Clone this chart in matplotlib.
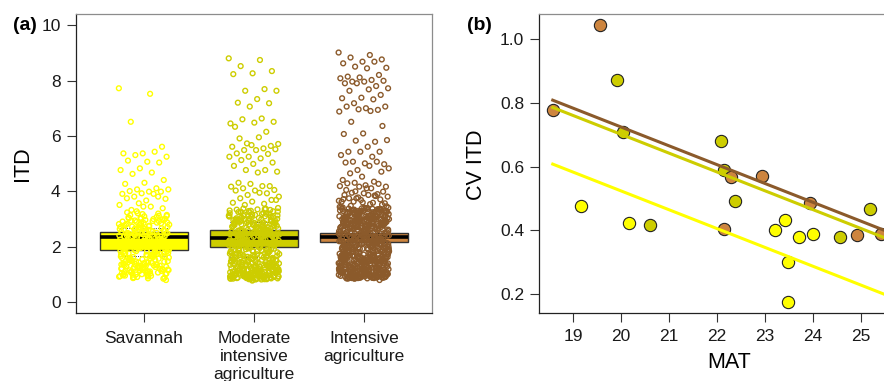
import numpy as np
import matplotlib.pyplot as plt

plt.rcParams['font.family'] = ['Liberation Sans', 'DejaVu Sans']

# ---- panel (a): ITD per land use ----
categories = ['Savannah', 'Moderate\nintensive\nagriculture', 'Intensive\nagriculture']
point_cols = ['#FFFF00', '#CDCD00', '#8B5A2B']
box_cols = ['#FFFF00', '#CDCD00', '#CD853F']

box_low = [1.89, 2.01, 2.16]
box_high = [2.55, 2.61, 2.51]
box_mid = [2.37, 2.31, 2.34]
q_upper = [2.68, 2.90, 3.36]
q_lower = [1.68, 1.62, 2.50]

itd_savannah = [
    7.72, 7.52, 6.51, 5.61, 5.37, 5.37, 5.43, 5.31, 5.25, 5.07, 5.11, 5.04, 4.83, 4.77,
    4.68, 4.63, 4.41, 4.31, 4.27, 4.11, 4.07, 4.07, 3.99, 4.01, 3.99, 3.93, 3.91, 3.91,
    3.81, 3.73, 3.67, 3.75, 3.81, 3.57, 3.51, 3.45, 3.33, 3.39, 3.45,
    1.02, 2.31, 1.47, 2.88, 0.93, 1.76, 2.12, 3.05, 1.21, 2.56, 1.63, 0.88, 2.04, 2.79,
    1.35, 3.21, 1.9, 2.42, 1.09, 2.67, 1.55, 0.97, 2.19, 2.95, 1.28, 1.83, 2.5, 3.12,
    1.14, 2.26, 1.68, 2.73, 0.85, 1.41, 2.37, 1.97, 3.28, 1.18, 2.61, 1.52, 2.08, 2.84,
    1.05, 1.73, 2.45, 3.01, 1.31, 2.15, 1.86, 2.69, 0.92, 1.58, 2.34, 2.99, 1.24, 2.02,
    1.79, 2.53, 3.15, 1.12, 1.45, 2.27, 2.81, 1.65, 2.11, 0.99, 2.58, 1.38, 1.93, 3.08,
    2.4, 1.16, 2.76, 1.6, 2.22, 1.01, 2.91, 1.33, 1.88, 2.48, 1.71, 3.24, 2.06, 1.26,
    2.64, 0.95, 1.5, 2.3, 2.86, 1.08, 1.81, 2.17, 2.71, 1.43, 3.03, 1.2, 1.96, 2.55,
    1.62, 0.9, 2.38, 2.97, 1.3, 1.75, 2.1, 2.8, 1.11, 1.56, 2.25, 3.18, 1.4, 2.0, 2.66,
    1.04, 1.69, 2.44, 2.92, 1.23, 1.85, 2.14, 1.49, 2.6, 3.1, 0.96, 1.36, 2.33, 1.78,
    2.74, 1.15, 2.05, 2.5, 1.59, 3.0, 1.27, 1.92, 2.2, 2.83, 1.07, 1.44, 2.41, 1.66,
    2.94, 1.19, 2.09, 2.62, 1.53, 1.0, 1.84, 2.35, 3.06, 1.32, 2.7, 1.72, 2.16, 0.87,
    1.46, 2.52, 1.98, 2.87, 1.25, 1.61, 2.28, 3.14, 1.13, 2.46, 1.8, 2.04, 1.39, 0.8,
    1.06, 2.23, 1.57, 2.78, 0.94, 1.87, 2.39, 1.17, 2.65, 1.34, 2.01, 2.9, 1.48, 1.09,
    2.47, 1.74, 3.02, 1.22, 2.13, 0.89, 1.64, 2.57, 1.29, 2.36, 1.95, 2.82, 1.03, 1.51,
    2.18, 2.68, 1.37, 1.82, 2.44, 3.11, 0.98, 1.6, 2.27, 1.14, 2.72, 1.42, 2.06, 2.96,
    1.25, 1.77, 2.51, 0.91, 1.91, 2.32, 1.55, 2.85, 1.19, 2.1, 1.69, 2.63, 1.01, 1.44,
    2.4, 3.2, 1.32, 1.99, 2.59, 1.1, 1.67, 2.21, 2.77, 1.27, 1.84, 2.49, 0.86, 1.54,
    2.03, 2.69, 1.36, 2.93, 1.2, 1.79, 2.29, 1.49, 2.42, 1.94,
]

itd_moderate = [
    8.8, 8.74, 8.52, 8.34, 8.26, 8.23, 7.69, 7.63, 7.63, 7.33, 7.2, 7.18, 7.06, 6.45,
    6.63, 6.6, 6.51, 6.48, 6.33, 6.15, 5.73, 5.71, 5.95, 5.91, 5.64, 5.67, 5.61, 5.55,
    5.49, 5.52, 5.49, 5.37, 5.35, 5.25, 5.25, 5.19, 5.13, 5.04, 4.99, 4.92, 4.77, 4.77,
    4.71, 4.68, 4.31, 4.19, 4.27, 4.17, 4.19, 4.11, 4.05, 4.03, 4.03, 3.93, 3.87, 3.81,
    3.95, 3.75, 3.69, 3.63, 3.59, 3.55, 3.51, 3.69,
    0.84, 2.41, 1.12, 3.02, 0.93, 1.67, 2.18, 2.87, 1.03, 1.39, 2.63, 0.88, 3.27, 1.21,
    1.95, 2.52, 0.99, 1.48, 2.29, 3.11, 1.07, 0.82, 1.76, 2.71, 1.16, 2.06, 0.95, 2.94,
    1.3, 1.58, 2.37, 3.36, 0.91, 1.09, 1.85, 2.58, 1.25, 2.15, 0.86, 3.18, 1.43, 2.79,
    1.01, 1.71, 2.46, 0.97, 1.19, 2.01, 2.9, 1.34, 3.07, 0.89, 1.62, 2.24, 1.05, 2.68,
    1.28, 1.9, 0.83, 3.31, 1.14, 2.55, 1.52, 2.11, 0.96, 2.83, 1.37, 1.8, 1.02, 2.33,
    3.14, 0.9, 1.23, 2.62, 1.66, 2.04, 1.1, 2.97, 0.87, 1.45, 2.44, 1.97, 3.23, 1.17,
    1.56, 2.75, 0.94, 2.2, 1.32, 1.73, 2.5, 1.06, 3.0, 0.85, 1.88, 2.36, 1.27, 2.86,
    1.6, 0.98, 2.09, 3.4, 1.13, 1.41, 2.66, 0.92, 1.78, 2.27, 1.2, 2.93, 1.5, 1.04,
    2.57, 1.99, 3.09, 0.88, 1.35, 2.13, 1.69, 2.8, 1.08, 2.4, 1.24, 0.95, 3.25, 1.83,
    2.03, 1.47, 2.7, 1.0, 2.31, 1.15, 2.99, 0.83, 1.64, 2.22, 1.29, 2.6, 1.92, 3.16,
    1.11, 0.9, 2.48, 1.54, 2.07, 2.91, 1.38, 0.97, 1.75, 2.35, 3.05, 1.18, 2.77, 1.03,
    1.44, 2.17, 0.86, 2.65, 1.86, 3.33, 1.22, 1.59, 2.26, 0.94, 2.85, 1.31, 1.02, 2.53,
    1.94, 3.12, 1.09, 1.7, 2.43, 0.81, 2.96, 1.26, 2.0, 1.49, 2.72, 1.14, 3.2, 0.89,
    1.81, 2.39, 1.36, 2.59, 1.05, 2.14, 1.63, 2.88, 0.92, 1.19, 2.3, 3.08, 1.42, 1.98,
    2.67, 1.0, 1.28, 2.49, 0.87, 1.77, 3.29, 2.23, 1.12, 2.81, 1.57, 0.96, 2.08, 2.55,
    1.33, 3.01, 1.07, 1.9, 2.45, 0.84, 1.46, 2.74, 1.21, 2.19, 3.15, 0.99, 1.68, 2.61,
    1.4, 1.01, 2.34, 2.92, 0.78,
    0.85, 0.91, 1.04, 1.13, 0.88, 1.22, 0.97, 1.31, 1.08, 0.82, 1.17, 0.94, 1.26, 1.0,
    1.36, 0.87, 1.11, 0.99, 1.2, 0.9, 2.12, 2.56, 2.88, 3.17, 2.33, 2.71, 3.03, 2.44,
    2.95, 2.19, 2.64, 3.26, 2.38, 2.82, 2.05, 3.1, 2.5, 2.76, 3.35, 2.27, 1.42, 1.61,
    1.84, 1.53, 1.72, 1.93, 1.66, 1.47, 1.88, 1.57, 0.93, 1.06, 1.15, 0.86, 1.24, 1.01,
    1.33, 0.95, 1.1, 1.19, 2.02, 2.47, 2.93, 3.21, 2.16, 2.6, 3.07, 2.36, 2.84, 2.25,
    2.69, 3.13, 2.41, 2.98, 2.1, 3.3, 2.54, 2.78, 3.38, 2.3, 1.45, 1.65, 1.8, 1.5,
    1.74, 1.96, 1.62, 1.39, 1.86, 1.55, 0.83, 0.98, 1.07, 1.16, 0.89, 1.29, 1.03, 1.35,
    0.92, 1.13, 2.07, 2.51, 2.9, 3.19, 2.21, 2.66, 3.04, 2.42, 2.97, 2.28, 2.73, 3.22,
    2.39, 2.86, 2.11, 3.34, 2.58, 2.8, 3.12, 2.32, 1.43, 1.6, 1.83, 1.52, 1.76, 1.91,
    1.67, 1.41, 1.89, 1.56, 0.86, 0.96, 1.05, 1.18, 0.91, 1.27, 1.02, 1.32, 0.94, 1.12,
    2.04, 2.45, 2.92, 3.16, 2.18, 2.62, 3.0, 2.35, 2.83, 2.24, 2.7, 3.24, 2.46, 2.99,
    2.09, 3.28, 2.53, 2.79, 3.37, 2.26,
]

itd_intensive = [
    9.01, 8.92, 8.83, 8.76, 8.68, 8.62, 8.68, 8.5, 8.46, 8.44, 8.14, 8.2, 8.11, 8.08,
    8.02, 7.96, 7.99, 7.96, 7.9, 7.8, 7.9, 7.72, 7.68, 7.63, 7.48, 7.38, 7.36, 7.32,
    7.18, 7.06, 7.0, 7.06, 6.94, 6.96, 6.88, 6.9, 6.51, 6.36, 6.09, 6.07, 5.79, 5.83,
    5.85, 5.61, 5.43, 5.43, 5.43, 5.31, 5.25, 5.07, 4.98, 5.01, 5.04, 5.07, 4.77, 4.83,
    4.92, 4.65, 4.71, 4.53, 4.41, 4.35, 4.31, 4.17, 4.11, 4.29, 4.27, 4.17, 4.19, 4.11,
    3.95, 3.99, 3.93, 3.87, 3.83, 3.75, 3.81, 3.87, 3.75, 3.71, 3.69, 3.63, 3.59, 3.63,
    3.57, 4.22, 4.05, 3.9, 3.78, 3.66, 3.54, 3.48, 3.52, 3.6, 3.72, 3.85, 4.0, 3.46,
    0.86, 2.14, 1.37, 3.22, 0.95, 2.66, 1.81, 1.08, 2.93, 1.52, 0.89, 2.38, 3.41, 1.19,
    1.96, 2.71, 1.03, 1.64, 3.05, 2.25, 0.92, 1.29, 2.82, 1.73, 3.3, 1.11, 2.47, 0.98,
    1.88, 2.59, 1.43, 3.13, 0.87, 2.02, 1.25, 2.97, 1.6, 2.33, 1.06, 3.37, 1.91, 0.94,
    2.76, 1.33, 2.18, 1.14, 3.0, 1.7, 2.54, 0.9, 1.47, 2.88, 2.09, 1.22, 3.26, 1.01,
    1.83, 2.42, 1.56, 2.69, 0.96, 3.09, 1.17, 2.28, 1.76, 2.99, 0.88, 1.4, 2.61, 2.05,
    3.35, 1.09, 1.94, 2.5, 1.3, 2.85, 1.0, 1.67, 2.21, 3.17, 1.2, 0.93, 2.74, 1.55,
    2.36, 1.86, 3.02, 1.12, 1.35, 2.56, 0.91, 2.11, 3.28, 1.62, 2.9, 1.04, 1.78, 2.45,
    1.27, 3.11, 0.97, 2.0, 1.49, 2.65, 1.15, 3.39, 1.9, 2.3, 0.85, 1.58, 2.79, 1.07,
    2.17, 3.2, 1.32, 1.98, 2.52, 0.99, 1.72, 2.95, 1.23, 2.4, 3.04, 1.45, 0.9, 2.07,
    2.68, 1.13, 1.84, 3.32, 1.38, 2.23, 1.02, 2.83, 1.63, 2.48, 0.94, 3.14, 1.18, 1.93,
    2.6, 1.5, 2.12, 1.05, 2.97, 1.79, 3.24, 0.88, 1.28, 2.35, 1.69, 2.77, 1.1, 2.03,
    3.07, 1.41, 2.57, 0.96, 1.87, 2.27, 1.21, 3.36, 1.59, 2.91, 1.03, 2.44, 1.74, 2.15,
    0.92, 3.1, 1.34, 1.97, 2.63, 1.16, 2.86, 1.54, 2.32, 1.0, 3.27, 1.82, 2.08, 1.26,
    2.72, 0.89, 1.66, 2.5, 3.0, 1.08, 1.44, 2.19, 1.92, 2.81, 1.19, 3.18, 0.95, 1.61,
    2.39, 1.36, 2.94, 1.06, 2.01, 2.66, 1.77, 3.31, 1.24, 0.87, 2.26, 1.53, 2.58, 1.12,
    3.03, 1.89, 2.46, 1.31, 0.98, 2.75, 1.7, 2.1, 3.21, 1.46, 1.01, 2.53, 1.85, 2.89,
    1.2, 2.37, 0.93, 1.57, 3.12, 2.04, 1.39, 2.7, 1.09, 1.95, 2.43, 3.34, 1.27, 1.65,
    2.22, 0.91, 2.84, 1.48, 3.06, 1.14, 2.62, 1.8, 2.16, 1.04, 2.98, 1.33, 1.99, 3.25,
    0.86, 2.49, 1.6, 2.78, 1.17, 2.29, 1.75, 3.15, 1.0, 1.42, 2.55, 2.06, 0.94, 2.92,
    1.29, 1.9, 3.38, 1.55, 2.34, 1.07, 2.73, 1.68, 2.13, 3.08, 1.22, 0.9, 2.6, 1.84,
    1.37, 2.96, 1.11, 2.41, 3.29, 1.63, 2.0, 1.02, 2.67, 1.51, 2.24, 3.01, 1.25, 0.97,
    1.93, 2.8, 1.43, 2.47, 1.15, 3.19, 1.73, 2.09, 0.88, 2.87, 1.34, 2.31, 1.78, 3.23,
    1.05, 2.58, 1.58, 1.96, 2.74, 1.21, 3.13, 0.99, 2.2, 1.47, 2.9, 1.88, 1.1, 2.52,
    3.35, 1.3, 0.8,
    1.01, 1.58, 2.19, 2.83, 3.31, 0.93, 1.46, 2.07, 2.71, 3.18, 1.12, 1.69, 2.3, 2.92,
    3.42, 0.87, 1.35, 1.97, 2.58, 3.06, 1.24, 1.81, 2.42, 3.0, 0.96, 1.52, 2.13, 2.77,
    3.25, 1.06, 1.63, 2.24, 2.88, 3.37, 0.9, 1.4, 2.02, 2.64, 3.12, 1.18, 1.75, 2.36,
    2.96, 0.99, 1.55, 2.16, 2.8, 3.28, 1.09, 1.66, 2.27, 2.9, 3.4, 0.85, 1.33, 1.93,
    2.55, 3.03, 1.21, 1.78, 2.39, 2.98, 0.95, 1.49, 2.1, 2.74, 3.22, 1.04, 1.61, 2.21,
    2.86, 3.34, 0.92, 1.38, 1.99, 2.61, 3.09, 1.15, 1.72, 2.33, 2.94, 1.0, 1.56, 2.17,
    2.79, 3.26, 1.11, 1.68, 2.29, 2.91, 3.43, 0.88, 1.36, 1.95, 2.57, 3.05, 1.23, 1.8,
    2.41, 3.01, 0.97, 1.51, 2.12, 2.75, 3.2, 1.07, 1.64, 2.26, 2.87, 3.36, 0.91, 1.42,
    2.04, 2.66, 3.14, 1.16, 1.74, 2.34, 2.97, 1.02, 1.57, 2.2, 2.81, 3.29, 1.13, 1.7,
    2.31, 2.93, 3.39, 0.86, 1.34, 1.96, 2.56, 3.07, 1.26, 1.83, 2.43, 3.02, 0.98, 1.53,
    2.14, 2.76, 3.23, 1.05, 1.62, 2.23, 2.85, 3.33, 0.89, 1.39, 2.01, 2.63, 3.1, 1.19,
    1.76, 2.37, 2.99, 1.03, 1.59, 2.18, 2.82, 3.3, 1.14, 1.71, 2.28, 2.89, 3.44, 0.94,
    1.37, 1.98, 2.59, 3.08, 1.22, 1.79, 2.4, 3.04, 0.9, 1.48, 2.09, 2.73, 3.19, 1.08,
    1.65, 2.25, 2.84, 3.35, 0.87, 1.41, 2.03, 2.67, 3.15, 1.17, 1.73, 2.32, 2.95, 1.01,
    1.54, 2.15, 2.78, 3.27, 1.1, 1.67, 2.22, 2.9, 3.41, 0.93, 1.44, 2.06, 2.62, 3.11,
    1.25, 1.82, 2.44, 3.0, 0.96, 1.5, 2.11, 2.72, 3.21, 1.06, 1.6, 2.2, 2.86, 3.32,
    0.88, 1.43, 2.05, 2.65, 3.13,
]

# ---- panel (b): CV ITD against MAT ----
mat_sav = [19.17, 20.17, 23.22, 23.43, 23.48, 23.48, 23.71, 24.0]
cv_sav = [0.475, 0.422, 0.402, 0.432, 0.300, 0.175, 0.378, 0.387]
mat_mod = [19.93, 20.05, 20.60, 22.09, 22.16, 22.38, 24.57, 25.19]
cv_mod = [0.872, 0.708, 0.416, 0.682, 0.589, 0.491, 0.380, 0.467]
mat_int = [18.58, 19.56, 22.14, 22.30, 22.94, 23.94, 24.92, 25.42]
cv_int = [0.778, 1.046, 0.405, 0.569, 0.572, 0.485, 0.384, 0.387]

fit_slope = -0.0592
fit_icpt = [1.708, 1.886, 1.909]   # savannah, moderate, intensive
fit_cols = ['#FFFF00', '#CDCD00', '#8B5A2B']
pt_cols_b = ['#FFFF00', '#CDCD00', '#CD853F']

W, H = 884, 381
fig = plt.figure(figsize=(W / 100, H / 100), dpi=100)
ax = fig.add_axes([76 / W, 1 - 313.3 / H, (432 - 76) / W, (313.3 - 14) / H])
ax2 = fig.add_axes([539.3 / W, 1 - 313.3 / H, (893.8 - 539.3) / W, (313.3 - 14) / H])

groups = [itd_savannah, itd_moderate, itd_intensive]
xs = np.arange(1, 4)
ax.bar(xs, np.array(box_high) - np.array(box_low), bottom=box_low, width=0.8,
       color=box_cols, edgecolor='#333333', linewidth=1.0, zorder=2)
ax.hlines(box_mid, xs - 0.4, xs + 0.4, color='black', lw=2.6, zorder=3)
ax.hlines(q_upper, xs - 0.22, xs + 0.22, color='black', lw=0.6, linestyles=':', zorder=3)
ax.hlines(q_lower, xs - 0.22, xs + 0.22, color='black', lw=0.6, linestyles=':', zorder=3)
for i, vals in enumerate(groups):
    n = len(vals)
    jit = ((np.arange(n) * 0.6180339887) % 1 - 0.5) * 0.46
    ax.scatter(xs[i] + jit, vals, s=12, facecolors='none', edgecolors=point_cols[i],
               linewidths=1.0, zorder=4)

ax.set_xlim(0.38, 3.62)
ax.set_ylim(-0.4, 10.4)
ax.set_yticks([0, 2, 4, 6, 8, 10])
ax.set_xticks(xs)
ax.set_xticklabels(categories, linespacing=1.25)

for a in (ax, ax2):
    a.spines['top'].set_color('#8c8c8c')
    a.spines['right'].set_color('#8c8c8c')
    a.spines['left'].set_color('#222222')
    a.spines['bottom'].set_color('#222222')
    for s in a.spines.values():
        s.set_linewidth(0.9)
    a.tick_params(direction='out', length=6.5, width=0.8, color='#333333',
                  labelsize=12.5, pad=4.5, labelcolor='#1a1a1a')
ax.tick_params(axis='x', pad=6)

# panel b
ax2.scatter(mat_sav, cv_sav, s=78, c=pt_cols_b[0], edgecolors='#222222', linewidths=0.8, zorder=3)
ax2.scatter(mat_mod, cv_mod, s=78, c=pt_cols_b[1], edgecolors='#222222', linewidths=0.8, zorder=3)
ax2.scatter(mat_int, cv_int, s=78, c=pt_cols_b[2], edgecolors='#222222', linewidths=0.8, zorder=3)
xline = np.array([min(mat_int), 26.0])
for icpt, col in zip(fit_icpt, fit_cols):
    ax2.plot(xline, icpt + fit_slope * xline, color=col, lw=2.2, zorder=4)

ax2.set_xlim(18.3, 25.69)
ax2.set_ylim(0.139, 1.08)
ax2.set_xticks(range(19, 26))
ax2.set_yticks([0.2, 0.4, 0.6, 0.8, 1.0])
ax2.set_yticklabels(['0.2', '0.4', '0.6', '0.8', '1.0'])

fig.text(13 / W, 1 - 25 / H, '(a)', fontsize=14, fontweight='bold', va='center', ha='left')
fig.text(467 / W, 1 - 25 / H, '(b)', fontsize=14, fontweight='bold', va='center', ha='left')
fig.text(23 / W, 1 - 164 / H, 'ITD', fontsize=15.5, rotation=90, ha='center', va='center')
fig.text(477 / W, 1 - 164.5 / H, 'CV ITD', fontsize=15.5, rotation=90, ha='center', va='center')
fig.text(729 / W, 1 - 363 / H, 'MAT', fontsize=15.5, ha='center', va='center')

fig.savefig('out.png', dpi=100)
